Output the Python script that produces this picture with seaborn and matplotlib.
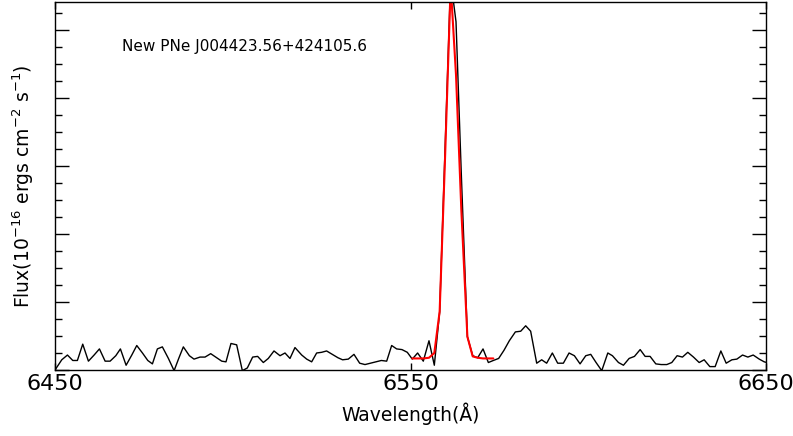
import matplotlib
matplotlib.use("Agg")
import matplotlib.pyplot as plt
import seaborn as sns
import pandas as pd
from matplotlib.ticker import MultipleLocator, FixedLocator, NullFormatter

wavelength = [
    6450.0, 6451.9, 6453.5, 6455.0, 6456.3, 6457.8, 6459.4, 6461.0, 6462.5, 6464.1,
    6465.5, 6467.1, 6468.4, 6470.0, 6471.6, 6473.0, 6474.6, 6476.1, 6477.4, 6478.8,
    6480.2, 6481.9, 6483.5, 6484.8, 6486.1, 6487.8, 6489.1, 6490.8, 6492.2, 6493.8,
    6495.5, 6496.9, 6498.1, 6499.5, 6501.1, 6502.7, 6504.1, 6505.6, 6507.0, 6508.6,
    6510.0, 6511.6, 6513.3, 6514.7, 6516.1, 6517.5, 6519.4, 6520.8, 6522.2, 6523.6,
    6525.0, 6526.4, 6528.3, 6529.6, 6530.9, 6532.5, 6534.1, 6535.7, 6537.2, 6538.7,
    6540.2, 6541.8, 6543.3, 6544.7, 6546.1, 6547.6, 6549.1, 6550.5, 6552.0, 6553.6,
    6555.2, 6556.7, 6558.2, 6559.7, 6561.3, 6562.8, 6564.3, 6566.0, 6567.5, 6568.9,
    6570.4, 6571.9, 6573.3, 6574.8, 6576.3, 6577.8, 6579.5, 6581.0, 6582.4, 6583.8,
    6585.5, 6586.9, 6588.3, 6589.9, 6591.4, 6593.0, 6594.6, 6596.1, 6597.7, 6599.3,
    6600.7, 6602.2, 6603.8, 6605.5, 6606.8, 6608.5, 6609.9, 6611.5, 6613.0, 6614.6,
    6616.0, 6617.4, 6619.0, 6620.5, 6622.1, 6623.5, 6625.0, 6626.5, 6628.0, 6629.6,
    6631.2, 6632.6, 6634.2, 6635.7, 6637.3, 6638.8, 6640.4, 6641.8, 6643.4, 6644.9,
    6646.4, 6648.1, 6649.5, 6651.0,
]
flux = [
    0.00, 0.15, 0.22, 0.14, 0.14, 0.38, 0.13, 0.22, 0.31, 0.13,
    0.13, 0.21, 0.31, 0.07, 0.22, 0.36, 0.25, 0.14, 0.09, 0.31,
    0.34, 0.17, -0.01, 0.17, 0.34, 0.21, 0.16, 0.19, 0.19, 0.24,
    0.18, 0.13, 0.12, 0.39, 0.37, -0.01, 0.03, 0.19, 0.20, 0.11,
    0.17, 0.28, 0.21, 0.25, 0.17, 0.33, 0.22, 0.16, 0.12, 0.25,
    0.26, 0.28, 0.22, 0.18, 0.15, 0.16, 0.23, 0.10, 0.08, 0.10,
    0.12, 0.14, 0.13, 0.36, 0.31, 0.30, 0.26, 0.16, 0.25, 0.13,
    0.43, 0.07, 0.85, 3.24, 5.74, 5.12, 2.87, 0.49, 0.21, 0.18,
    0.31, 0.11, 0.14, 0.17, 0.29, 0.43, 0.56, 0.57, 0.65, 0.57,
    0.10, 0.15, 0.10, 0.25, 0.10, 0.10, 0.25, 0.21, 0.09, 0.21,
    0.23, 0.11, -0.01, 0.25, 0.21, 0.11, 0.07, 0.17, 0.20, 0.30,
    0.20, 0.20, 0.09, 0.08, 0.08, 0.11, 0.21, 0.19, 0.26, 0.19,
    0.11, 0.15, 0.05, 0.05, 0.28, 0.10, 0.15, 0.16, 0.22, 0.19,
    0.22, 0.16, 0.12, 0.10,
]

fit_wavelength = [
    6550.5, 6552.0, 6553.6, 6555.2, 6556.7, 6558.2, 6559.7, 6561.3,
    6562.8, 6564.3, 6566.0, 6567.5, 6568.9, 6570.4, 6571.9, 6573.3,
]
fit_flux = [
    0.17, 0.17, 0.17, 0.18, 0.25, 0.86, 3.09, 5.66,
    4.34, 2.35, 0.49, 0.20, 0.18, 0.17, 0.17, 0.17,
]

x_ticks = [6450, 6550, 6650]
title_text = "New PNe J004423.56+424105.6"

spec = pd.DataFrame({"wavelength": wavelength, "flux": flux})
fit = pd.DataFrame({"wavelength": fit_wavelength, "flux": fit_flux})

sns.set_style("white")
plt.rcParams["font.family"] = ["DejaVu Sans"]
plt.rcParams["text.color"] = "black"
plt.rcParams["axes.labelcolor"] = "black"
plt.rcParams["xtick.color"] = "black"
plt.rcParams["ytick.color"] = "black"

fig = plt.figure(figsize=(7.93, 4.36), dpi=100)
ax = fig.add_axes([55 / 793, (436 - 370) / 436, (766 - 55) / 793, 368 / 436])

sns.lineplot(data=spec, x="wavelength", y="flux", ax=ax, color="black",
             linewidth=1.0, sort=False, estimator=None)
sns.lineplot(data=fit, x="wavelength", y="flux", ax=ax, color="red",
             linewidth=1.5, sort=False, estimator=None)

ax.set_xlim(6450, 6650)
ax.set_ylim(0, 5.41)

ax.xaxis.set_major_locator(FixedLocator(x_ticks))
ax.set_xticklabels([str(t) for t in x_ticks], fontsize=16)
ax.yaxis.set_major_locator(MultipleLocator(1))
ax.yaxis.set_minor_locator(MultipleLocator(0.25))
ax.yaxis.set_major_formatter(NullFormatter())

ax.tick_params(axis="x", which="major", direction="in", length=5, width=1,
               top=True, bottom=True, pad=3, colors="black")
ax.tick_params(axis="y", which="major", direction="in", length=10, width=1,
               left=True, right=True)
ax.tick_params(axis="y", which="minor", direction="in", length=5, width=1,
               left=True, right=True)

for s in ax.spines.values():
    s.set_color("black")
    s.set_linewidth(1.0)

ax.set_xlabel("Wavelength(Å)", fontsize=13.5, labelpad=6, color="black")
ax.set_ylabel(r"Flux(10$^{-16}$ ergs cm$^{-2}$ s$^{-1}$)", fontsize=13.5,
              labelpad=10, color="black")
ax.text(0.094, 0.880, title_text, transform=ax.transAxes, fontsize=11,
        ha="left", va="center", color="black")

fig.savefig("out.png", dpi=100)
